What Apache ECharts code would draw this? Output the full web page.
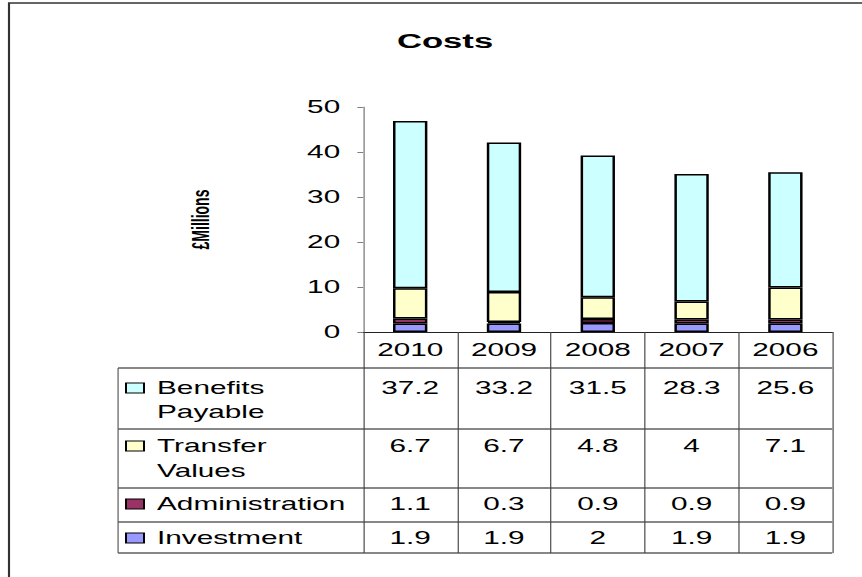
<!DOCTYPE html>
<html>
<head>
<meta charset="utf-8">
<script src="https://cdn.jsdelivr.net/npm/echarts@6/dist/echarts.min.js"></script>
<style>
html,body{margin:0;padding:0;background:#fff;overflow:hidden;width:862px;height:577px;}
#chart{width:522px;height:577px;transform:scaleX(1.65134);transform-origin:0 0;}
</style>
</head>
<body>
<div id="chart"></div>
<script>
// ---- data ----
const categories = ['2010', '2009', '2008', '2007', '2006'];
const benefitsPayable = [37.2, 33.2, 31.5, 28.3, 25.6];
const transferValues = [6.7, 6.7, 4.8, 4, 7.1];
const administration = [1.1, 0.3, 0.9, 0.9, 0.9];
const investment = [1.9, 1.9, 2, 1.9, 1.9];
const seriesNames = ['Benefits Payable', 'Transfer Values', 'Administration', 'Investment'];
const legendLines = [['Benefits', 'Payable'], ['Transfer', 'Values'], ['Administration'], ['Investment']];
const yMin = 0, yMax = 50, yStep = 10;
const titleText = 'Costs';
const yName = '£Millions';

// ---- styling / layout (drawn in a narrow space then stretched horizontally) ----
const FONT = '"Liberation Sans", Arial, sans-serif';
const colors = ['#CCFFFF', '#FFFFCC', '#993366', '#9999FF'];
const gridLeft = 220, gridRightX = 504, gridTop = 107, axisY = 332;
const tableLeft = 71.5;
const rowLines = [368, 429, 488, 522, 553];
const rowTextY = [[388, 412], [446, 471], [504], [538]];

const chart = echarts.init(document.getElementById('chart'), null, {renderer: 'svg'});

function rowAxis(values, centerY) {
  return {
    type: 'category', data: categories, gridIndex: 0, position: 'bottom',
    axisLine: {show: false}, axisTick: {show: false}, splitLine: {show: false},
    axisLabel: {
      interval: 0, margin: centerY - axisY, verticalAlign: 'middle',
      color: '#000', fontSize: 18, fontFamily: FONT,
      formatter: (v, i) => String(values[i])
    }
  };
}

const graphics = [];
// outer frame
graphics.push({type: 'polyline', shape: {points: [[5.45, 700], [5.45, 3], [700, 3]]},
  style: {stroke: '#333', lineWidth: 1.3, fill: null}, silent: true});
// horizontal table lines
rowLines.forEach(y => graphics.push({type: 'line', shape: {x1: tableLeft, y1: y, x2: gridRightX, y2: y},
  style: {stroke: '#111', lineWidth: 1}, silent: true}));
// legend column left border
graphics.push({type: 'line', shape: {x1: tableLeft, y1: rowLines[0], x2: tableLeft, y2: rowLines[rowLines.length - 1]},
  style: {stroke: '#555', lineWidth: 0.7}, silent: true});
// legend keys and labels
legendLines.forEach((lines, r) => {
  const cy = rowTextY[r][0];
  graphics.push({type: 'rect', shape: {x: 76.3, y: cy - 5, width: 10.9, height: 10},
    style: {fill: colors[r], stroke: '#000', lineWidth: 1.2}, silent: true});
  lines.forEach((t, k) => graphics.push({type: 'text', silent: true,
    style: {text: t, x: 95.1, y: rowTextY[r][k], font: '18px ' + FONT, fill: '#000',
      align: 'left', verticalAlign: 'middle', textAlign: 'left', textVerticalAlign: 'middle'}}));
});

function barSeries(name, data, color) {
  return {
    name, type: 'bar', stack: 'total', data, barWidth: 20.8,
    itemStyle: {color, borderColor: '#000', borderWidth: 1.5},
    xAxisIndex: 0, yAxisIndex: 0
  };
}

chart.setOption({
  animation: false,
  backgroundColor: '#fff',
  title: {
    text: titleText, left: 269.5, top: 30, textAlign: 'center', padding: 0,
    textStyle: {fontSize: 21, fontWeight: 'bold', fontFamily: FONT, color: '#000'}
  },
  grid: {left: gridLeft, right: 522 - gridRightX, top: gridTop, bottom: 577 - axisY, containLabel: false},
  xAxis: [
    {
      type: 'category', data: categories, gridIndex: 0, position: 'bottom',
      axisLine: {show: true, lineStyle: {color: '#222', width: 1}},
      axisTick: {show: true, interval: 0, length: rowLines[rowLines.length - 1] - axisY,
        lineStyle: {color: '#444', width: 0.7}},
      splitLine: {show: false},
      axisLabel: {interval: 0, margin: 349.5 - axisY, verticalAlign: 'middle',
        color: '#000', fontSize: 18, fontFamily: FONT}
    },
    rowAxis(benefitsPayable, rowTextY[0][0]),
    rowAxis(transferValues, rowTextY[1][0]),
    rowAxis(administration, rowTextY[2][0]),
    rowAxis(investment, rowTextY[3][0])
  ],
  yAxis: {
    type: 'value', min: yMin, max: yMax, interval: yStep,
    axisLine: {show: true, lineStyle: {color: '#808080', width: 0.8}},
    axisTick: {show: true, length: 3.6, lineStyle: {color: '#808080', width: 1}},
    splitLine: {show: false},
    axisLabel: {margin: 14, color: '#000', fontSize: 18, fontFamily: FONT},
    name: yName, nameLocation: 'middle', nameRotate: 90, nameGap: 91,
    nameTextStyle: {fontSize: 14, fontWeight: 'bold', color: '#000', fontFamily: FONT}
  },
  series: [
    barSeries(seriesNames[3], investment, colors[3]),
    barSeries(seriesNames[2], administration, colors[2]),
    barSeries(seriesNames[1], transferValues, colors[1]),
    barSeries(seriesNames[0], benefitsPayable, colors[0])
  ],
  graphic: graphics
});
</script>
</body>
</html>
